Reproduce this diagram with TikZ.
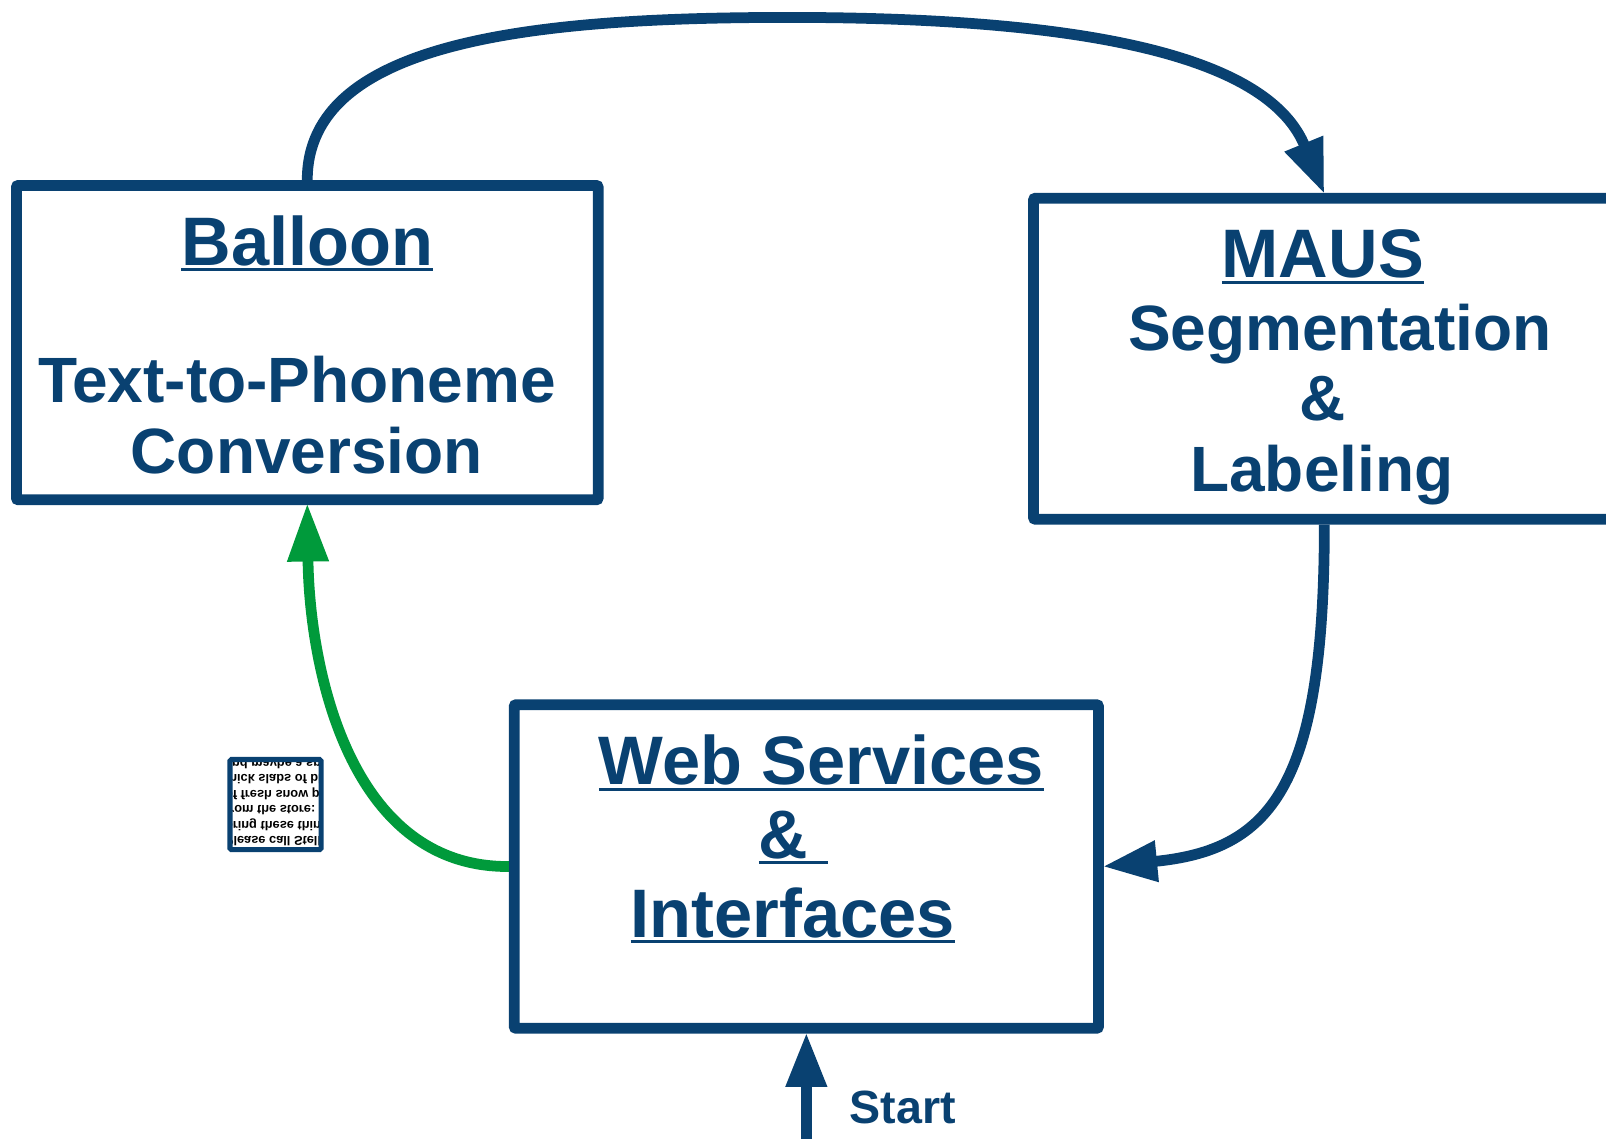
\documentclass[tikz,border=0pt]{standalone}
\usepackage{fontspec}
\setmainfont{Liberation Sans}
\usetikzlibrary{arrows.meta}
\definecolor{dblue}{RGB}{9,65,113}
\definecolor{dgreen}{RGB}{0,154,59}
\newcommand\myul[1]{\setbox0\hbox{#1}\rlap{\color{dblue}\rule[-6pt]{\wd0}{3pt}}\box0}
\begin{document}
\begin{tikzpicture}[x=1pt,y=-1pt,
  box/.style={draw=dblue, line width=10.5pt, rounded corners=2pt, inner sep=0pt},
  ttl/.style={text=dblue, font=\bfseries\fontsize{67}{75}\selectfont, inner sep=0pt, anchor=base},
  txt/.style={text=dblue, font=\bfseries\fontsize{62.5}{69}\selectfont, inner sep=0pt, anchor=base},
  lbl/.style={text=dblue, font=\bfseries\fontsize{45.5}{50}\selectfont, inner sep=0pt, anchor=base},
  notetxt/.style={text=black, font=\bfseries\fontsize{12.5}{15}\selectfont, inner sep=0pt, anchor=west, yscale=-1},
  conn/.style={color=dblue, line width=10.5pt, -{Triangle[length=53pt 0, width=38pt 0]}},
  gconn/.style={color=dgreen, line width=10.5pt, -{Triangle[length=57pt 0, width=38pt 0]}}]
\clip (0,0) rectangle (1568,1112);
\fill[white] (0,0) rectangle (1568,1112);

% boxes
\node[box, minimum width=568pt, minimum height=307pt] (balloon) at (300,334.5) {};
\node[box, minimum width=600pt, minimum height=313.5pt] (maus) at (1309,350.25) {};
\node[box, minimum width=570.5pt, minimum height=316pt] (web) at (787.25,846) {};

% texts
\node[ttl] (balloonT) at (300,259) {\myul{Balloon}};
\node[txt] (balloonA) at (290,393) {Text-to-Phoneme};
\node[txt] (balloonB) at (299.5,462) {Conversion};

\node[ttl] (mausT) at (1291.5,271) {\myul{MAUS}};
\node[txt] (mausA) at (1308,342) {Segmentation};
\node[txt] (mausB) at (1291,411) {\&};
\node[txt] (mausC) at (1290.5,480) {Labeling};

\node[ttl] (webT) at (802,766) {\myul{Web Services}};
\node[ttl] (webA) at (774.5,838) {\myul{\&\ }};
\node[ttl] (webB) at (774,915) {\myul{Interfaces}};

% small flipped note
\begin{scope}
\clip (224.5,741.5) rectangle (313.5,829.5);
\node[notetxt] (n1) at (219.5,821) {Please call Stella. Ask her to};
\node[notetxt] (n2) at (219.5,805.5) {bring these things with her};
\node[notetxt] (n3) at (219.5,790) {from the store: Six spoons};
\node[notetxt] (n4) at (219.5,775) {of fresh snow peas, five};
\node[notetxt] (n5) at (219.5,760) {thick slabs of blue cheese,};
\node[notetxt] (n6) at (219.5,745) {and maybe a snack for};
\end{scope}
\node[draw=dblue, line width=5pt, rounded corners=1.5pt, inner sep=0pt, minimum width=89pt, minimum height=88pt] (note) at (269,785.5) {};

% connectors
\coordinate (toparc) at (770,17);
\draw[conn] (balloon.north) .. controls (300,40) and (520,17) .. (toparc)
  .. controls (1080,17) and (1240,60) .. ([xshift=-16pt,yshift=-1pt]maus.north);
\draw[conn] ([xshift=-16pt]maus.south) .. controls (1293,770) and (1240,830) .. ([xshift=-1pt]web.east);
\draw[gconn] (web.west) .. controls (340,847) and (302,650) .. ([yshift=2pt]balloon.south);
\coordinate (startpt) at (787.25,1125);
\draw[conn] (startpt) -- ([yshift=1pt]web.south);
\node[lbl] (start) at (881.5,1097) {Start};
\end{tikzpicture}
\end{document}
